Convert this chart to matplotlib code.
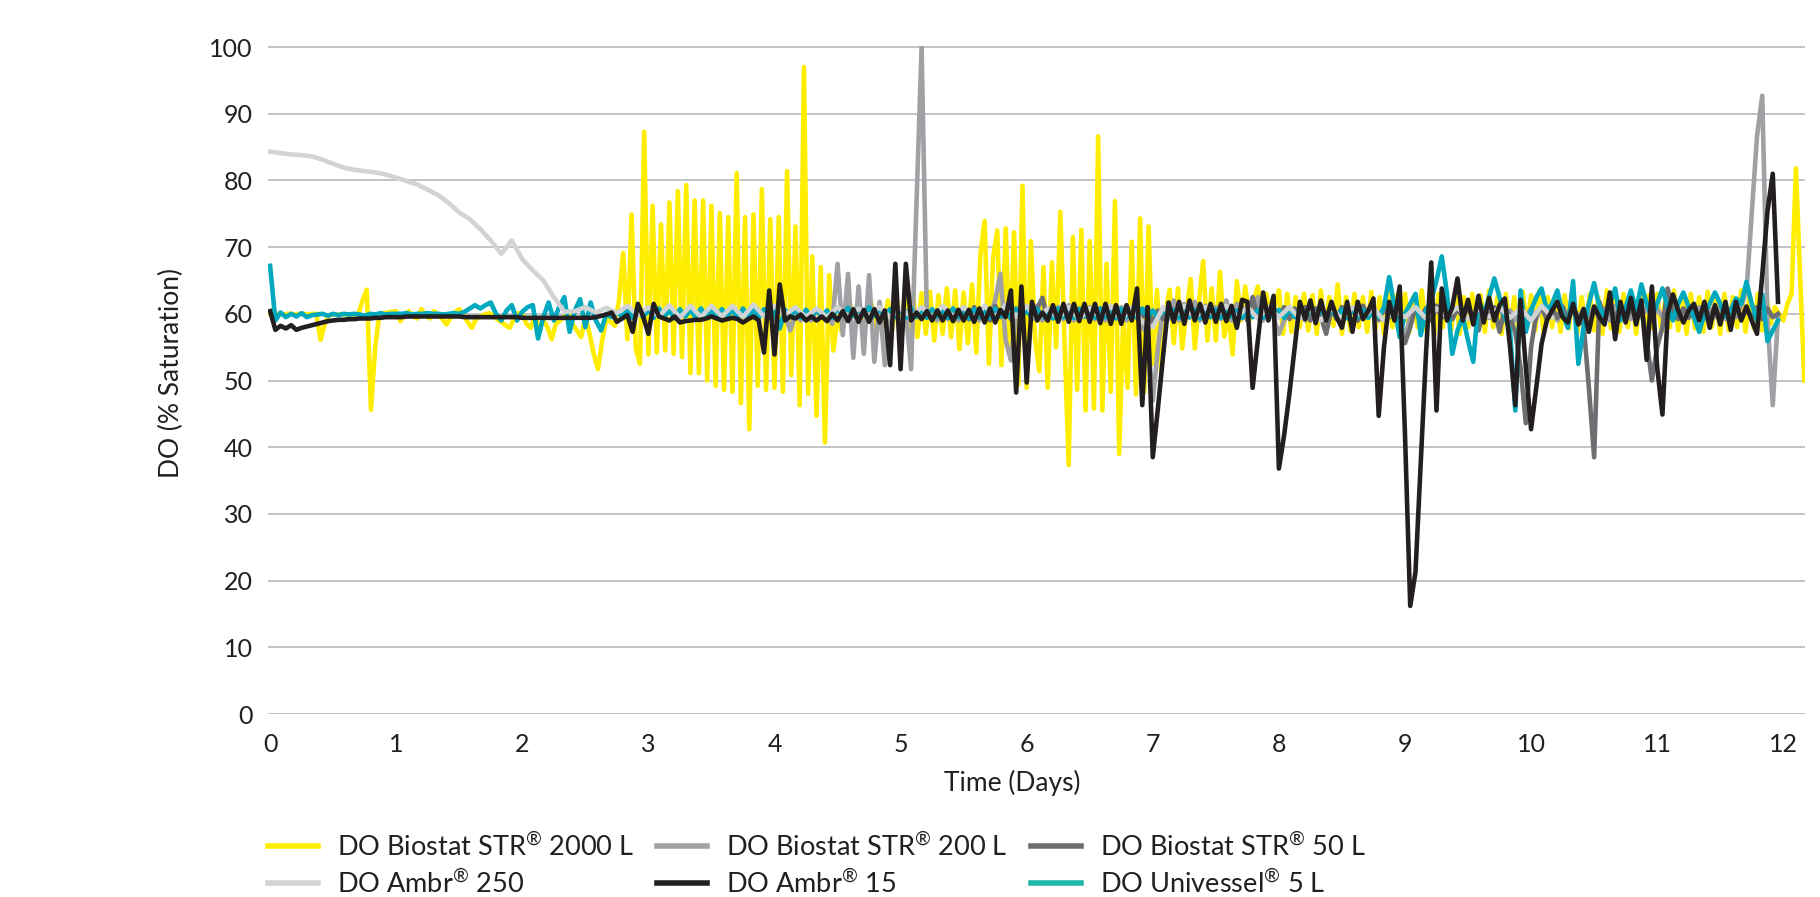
import numpy as np
import matplotlib
matplotlib.use("Agg")
import matplotlib.pyplot as plt
from matplotlib.lines import Line2D

plt.rcParams['font.family'] = ['Lato', 'DejaVu Sans']
plt.rcParams['mathtext.fontset'] = 'custom'
plt.rcParams['mathtext.rm'] = 'Lato'

# DO readings (% saturation).
# each series is sampled at a fixed step (days) from its start day

# DO Ambr 15 - hourly from day 0
ambr15_start, ambr15_step = 0.0, 1 / 24
ambr15 = [
    60.4, 57.6, 58.2, 57.8, 58.3, 57.6, 57.9, 58.1, 58.3, 58.5, 58.7, 58.9, 59.0, 59.1, 59.1, 59.2, 59.2, 59.3, 59.3, 59.3, 59.4, 59.4, 59.5, 59.5,
    59.5, 59.5, 59.6, 59.6, 59.6, 59.6, 59.6, 59.6, 59.6, 59.6, 59.6, 59.6, 59.6, 59.5, 59.5, 59.5, 59.5, 59.5, 59.5, 59.5, 59.5, 59.5, 59.5, 59.5,
    59.4, 59.4, 59.4, 59.4, 59.4, 59.4, 59.4, 59.4, 59.4, 59.4, 59.4, 59.4, 59.4, 59.4, 59.5, 59.7, 59.9, 60.2, 58.8, 59.3, 59.8, 57.3, 61.5, 59.6,
    57.0, 61.5, 59.6, 59.3, 59.0, 59.6, 58.7, 58.9, 59.0, 59.1, 59.1, 59.3, 59.6, 59.3, 59.0, 59.2, 59.4, 59.2, 58.7, 59.2, 59.6, 59.0, 54.2, 63.5,
    53.9, 64.4, 59.0, 59.6, 59.3, 59.9, 59.0, 59.6, 59.0, 59.6, 58.9, 60.0, 59.0, 60.4, 58.9, 60.7, 58.8, 60.6, 58.8, 60.7, 58.7, 60.5, 52.3, 67.5,
    51.7, 67.5, 59.0, 60.2, 59.2, 60.4, 59.0, 60.5, 59.0, 60.5, 58.9, 60.6, 59.0, 60.6, 58.8, 60.8, 58.7, 60.8, 58.7, 60.6, 59.5, 63.5, 48.2, 64.1,
    49.7, 61.8, 59.0, 60.2, 59.0, 61.3, 58.8, 61.5, 58.8, 61.5, 58.9, 61.5, 58.8, 61.5, 58.6, 61.5, 58.5, 61.3, 58.5, 61.3, 59.0, 63.8, 46.3, 61.0,
    38.5, 46.0, 54.0, 61.7, 58.8, 61.8, 58.5, 62.0, 59.0, 61.5, 58.7, 61.5, 58.8, 61.5, 58.9, 61.2, 57.9, 62.1, 61.8, 48.9, 56.0, 63.2, 59.0, 62.7,
    36.8, 41.8, 48.0, 54.9, 61.8, 59.2, 62.0, 58.6, 62.0, 59.0, 61.8, 59.5, 57.9, 61.8, 57.3, 61.8, 59.2, 60.4, 62.3, 44.7, 55.0, 61.8, 59.0, 64.1,
    42.0, 16.2, 21.3, 37.6, 54.0, 67.7, 45.5, 63.8, 59.0, 61.0, 65.3, 59.0, 62.1, 58.4, 62.7, 58.7, 62.4, 59.0, 61.3, 62.3, 55.0, 46.3, 62.1, 52.0,
    42.7, 49.0, 55.5, 59.0, 60.5, 61.8, 59.5, 58.7, 61.5, 58.4, 60.7, 57.3, 61.1, 59.5, 58.4, 63.2, 56.2, 61.8, 58.7, 62.4, 58.4, 62.0, 53.1, 64.1,
    52.0, 44.9, 60.0, 62.9, 60.5, 58.7, 60.5, 61.5, 59.0, 61.8, 57.9, 61.3, 58.4, 61.8, 57.6, 61.8, 59.0, 61.1, 59.0, 57.0, 65.8, 75.4, 81.0, 61.8,
]

# DO Biostat STR 2000 L - every 48 min from day 0
str2000_start, str2000_step = 0.0, 1 / 30
str2000 = [
    60.0, 60.0, 60.0, 59.9, 60.0, 60.0, 59.9, 60.0, 60.0, 59.9, 60.0, 60.0, 56.1, 58.5, 59.8, 59.9, 59.9, 59.9, 59.9, 59.9, 59.9, 59.9, 62.0, 63.6, 45.6, 55.0, 60.0, 60.1, 60.2, 60.3,
    60.4, 58.9, 59.8, 60.4, 59.6, 59.3, 60.7, 59.8, 59.3, 60.4, 59.8, 59.2, 58.4, 59.5, 60.2, 60.7, 59.8, 58.8, 57.9, 59.2, 59.6, 59.9, 60.1, 59.8, 59.2, 58.8, 58.3, 57.9, 59.2, 60.1,
    60.0, 58.5, 57.9, 59.6, 57.9, 59.0, 58.0, 56.2, 58.5, 59.0, 59.6, 60.1, 58.4, 57.5, 56.5, 59.6, 57.0, 54.0, 51.7, 56.0, 59.3, 58.8, 58.2, 62.0, 69.1, 56.2, 74.9, 54.8, 52.5, 87.3,
    53.9, 76.2, 54.2, 73.4, 54.5, 76.7, 54.0, 78.4, 53.5, 79.3, 51.1, 77.0, 51.1, 77.0, 50.0, 76.2, 49.2, 75.1, 48.6, 74.5, 48.3, 81.1, 46.6, 74.5, 42.7, 74.9, 49.2, 78.7, 48.6, 74.2,
    48.9, 74.5, 48.3, 81.4, 50.8, 73.1, 46.3, 97.0, 48.0, 68.6, 44.7, 67.0, 40.7, 65.8, 54.5, 59.6, 57.3, 60.0, 61.3, 59.6, 60.1, 58.5, 60.5, 61.8, 57.9, 61.5, 58.0, 62.0, 57.5, 62.5,
    57.0, 63.0, 57.5, 62.8, 56.5, 63.1, 57.0, 63.3, 56.0, 62.8, 57.0, 63.8, 56.5, 63.5, 54.7, 63.2, 55.6, 64.4, 54.2, 68.9, 73.9, 52.5, 68.3, 72.5, 52.3, 72.8, 54.0, 72.2, 49.4, 79.2,
    48.9, 70.9, 56.2, 51.4, 67.0, 48.9, 67.7, 55.0, 75.3, 56.0, 37.3, 71.5, 48.6, 72.6, 45.5, 70.9, 45.8, 86.6, 45.5, 67.5, 48.3, 76.9, 39.0, 60.0, 48.9, 70.8, 47.9, 74.3, 48.3, 73.1,
    52.5, 63.6, 51.4, 60.0, 63.6, 55.6, 63.8, 54.8, 60.5, 65.2, 54.8, 62.0, 67.9, 56.0, 63.8, 56.0, 66.3, 56.6, 60.0, 53.9, 64.9, 59.0, 64.1, 59.0, 62.0, 64.1, 59.0, 63.0, 59.6, 61.0,
    63.5, 57.0, 63.0, 57.3, 62.5, 58.0, 63.0, 57.5, 62.8, 57.0, 63.5, 57.6, 62.5, 58.2, 64.4, 57.0, 62.5, 57.5, 63.0, 58.0, 62.5, 57.3, 63.3, 57.8, 62.5, 57.0, 63.0, 58.0, 62.8, 57.5,
    63.0, 57.2, 62.5, 58.0, 63.5, 57.5, 62.8, 57.0, 63.0, 58.0, 62.5, 57.5, 63.3, 57.0, 62.5, 58.0, 63.0, 57.5, 62.8, 57.3, 63.5, 58.0, 62.5, 57.0, 63.0, 57.8, 62.5, 57.5, 63.3, 58.0,
    62.8, 57.5, 63.5, 57.0, 62.5, 58.0, 63.0, 57.3, 62.8, 57.8, 63.3, 57.0, 62.5, 58.0, 63.0, 57.5, 62.5, 57.0, 63.5, 57.8, 62.8, 57.3, 63.0, 58.0, 62.5, 57.0, 63.3, 57.5, 62.8, 57.8,
    63.0, 57.3, 62.5, 58.0, 63.5, 57.5, 62.8, 57.0, 63.0, 57.8, 62.5, 57.3, 63.3, 58.0, 62.8, 57.0, 63.0, 57.5, 62.5, 58.0, 63.5, 57.3, 62.8, 57.8, 63.0, 57.5, 62.5, 58.5, 61.0, 60.0,
    59.0, 61.5, 63.0, 81.8, 66.0, 50.0,
]

# DO Ambr 250 - every 2 h from day 0
ambr250_start, ambr250_step = 0.0, 1 / 12
ambr250 = [
    84.3, 84.1, 83.9, 83.8, 83.6, 83.1, 82.5, 81.9, 81.6, 81.4, 81.2, 80.9,
    80.4, 79.9, 79.4, 78.6, 77.8, 76.6, 75.2, 74.2, 72.7, 71.0, 69.0, 71.0,
    68.2, 66.5, 65.0, 62.5, 60.3, 60.4, 61.0, 60.2, 60.9, 60.1, 61.2, 59.8,
    61.0, 59.6, 61.3, 59.4, 61.2, 59.5, 61.2, 59.6, 61.2, 59.5, 61.4, 59.6,
    61.2, 59.8, 61.0, 59.5, 60.8, 59.5, 61.0, 59.6, 60.8, 59.7, 61.0, 59.5,
    60.8, 59.6, 61.0, 59.5, 61.2, 59.6, 61.0, 59.4, 61.2, 59.5, 61.3, 59.6,
    61.2, 59.0, 60.8, 59.3, 61.0, 59.2, 60.8, 59.5, 61.2, 59.0, 61.0, 58.8,
    58.0, 61.0, 59.5, 61.2, 59.4, 61.0, 59.6, 61.2, 59.5, 61.0, 59.3, 61.0,
    59.5, 61.0, 59.3, 60.7, 59.0, 60.8, 59.2, 61.0, 59.5, 60.8, 59.0, 60.5,
    59.5, 61.0, 59.3, 60.8, 59.6, 61.0, 59.2, 60.7, 59.5, 61.0, 59.4, 60.8,
    59.0, 61.2, 59.5,
]

# DO Univessel 5 L - hourly from day 0
univessel_start, univessel_step = 0.0, 1 / 24
univessel = [
    67.2, 59.0, 60.2, 59.5, 60.0, 59.6, 60.1, 59.5, 59.8, 59.9, 60.0, 59.7, 60.0, 59.8, 60.0, 59.9, 60.0, 59.9, 59.7, 60.0, 59.9, 60.1, 59.9, 60.0,
    60.0, 60.0, 60.1, 59.9, 60.0, 60.0, 60.1, 60.0, 60.0, 59.9, 60.0, 60.1, 60.0, 60.3, 60.8, 61.3, 60.8, 61.3, 61.7, 60.0, 59.0, 60.5, 61.3, 59.0,
    60.3, 61.0, 61.3, 56.3, 59.5, 61.7, 59.0, 61.0, 62.5, 57.3, 60.5, 62.2, 58.0, 61.7, 59.0, 57.5, 60.0, 59.5, 60.2, 59.6, 60.5, 59.4, 60.6, 59.5,
    60.6, 59.4, 60.8, 59.5, 60.5, 59.3, 60.7, 59.6, 60.6, 59.4, 60.8, 59.5, 60.5, 59.4, 60.7, 59.6, 60.6, 59.3, 60.8, 59.5, 60.6, 59.4, 60.7, 59.5,
    60.5, 57.8, 60.6, 59.5, 60.8, 59.4, 60.6, 59.5, 60.7, 59.6, 60.5, 59.4, 60.9, 59.8, 60.9, 59.7, 60.8, 59.8, 61.0, 59.7, 60.8, 59.6, 60.7, 59.5,
    60.6, 59.4, 60.8, 59.5, 60.6, 59.4, 60.7, 59.6, 60.5, 59.4, 60.8, 59.5, 60.6, 59.3, 60.7, 59.5, 60.6, 59.4, 60.8, 59.6, 60.5, 59.4, 60.7, 59.5,
    60.6, 59.4, 60.7, 59.5, 60.6, 59.3, 60.8, 59.5, 60.5, 59.4, 60.7, 59.6, 60.6, 59.4, 60.8, 59.5, 60.6, 59.3, 60.7, 59.5, 60.6, 59.4, 60.8, 59.5,
    60.5, 59.4, 60.7, 59.6, 60.6, 59.4, 60.8, 59.5, 60.6, 59.3, 60.7, 59.5, 60.6, 59.4, 60.8, 59.6, 60.5, 59.4, 60.7, 59.5, 60.6, 59.4, 60.8, 59.5,
    60.6, 59.4, 60.8, 59.5, 60.6, 59.4, 60.7, 59.6, 60.5, 59.4, 60.8, 59.5, 60.6, 59.3, 60.7, 59.5, 60.6, 59.4, 60.5, 59.5, 61.0, 65.5, 61.0, 56.5,
    60.0, 61.5, 63.0, 56.8, 60.5, 62.0, 65.0, 68.6, 63.0, 54.0, 57.5, 59.6, 56.0, 52.8, 62.0, 60.0, 62.5, 65.3, 62.5, 59.6, 57.5, 45.5, 63.5, 57.3,
    60.5, 62.5, 63.8, 60.5, 61.5, 63.5, 60.0, 57.9, 64.9, 52.5, 58.0, 61.5, 64.6, 61.0, 59.6, 61.5, 63.8, 59.0, 61.0, 63.5, 60.5, 64.4, 61.5, 59.6,
    61.5, 63.8, 61.0, 59.0, 61.5, 63.2, 61.0, 59.5, 57.3, 60.0, 61.5, 63.2, 61.5, 59.6, 60.5, 62.3, 61.5, 64.8, 61.5, 59.0, 62.9, 55.9, 57.5, 59.0,
]

# DO Biostat STR 200 L - hourly from day 4
str200_start, str200_step = 4.0, 1 / 24
str200 = [
    59.5, 58.0, 60.0, 57.5, 60.0, 59.0, 60.2, 59.0, 60.5, 59.5, 60.0, 58.5,
    67.5, 56.8, 66.0, 53.4, 64.1, 54.0, 65.8, 52.8, 61.8, 52.3, 60.0, 61.5,
    58.0, 60.5, 51.7, 76.0, 100.0, 59.5, 60.5, 59.0, 61.0, 59.2, 60.8, 59.0,
    61.0, 59.2, 60.8, 59.0, 61.2, 59.5, 62.0, 66.0, 56.0, 53.0, 60.5, 59.5,
    61.0, 59.3, 61.2, 59.0, 60.8, 59.4, 61.0, 59.2, 61.3, 59.0, 60.8, 59.5,
    61.0, 59.2, 60.8, 59.0, 61.2, 59.4, 61.0, 59.0, 60.5, 59.5, 58.0, 57.0,
    47.0, 55.0, 61.0, 59.2, 62.0, 59.0, 61.5, 59.4, 61.8, 59.0, 61.2, 59.5,
    61.0, 59.2, 62.0, 59.0, 61.5, 59.3, 61.0, 59.5, 62.5, 59.0, 61.0, 59.4,
    57.0, 59.0, 61.0, 59.5, 60.8, 59.0, 61.2, 59.3, 60.8, 59.0, 61.0, 59.2,
    61.0, 59.5, 60.8, 59.0, 61.2, 59.4, 61.0, 59.0, 60.8, 59.5, 61.0, 59.2,
    56.5, 59.5, 61.0, 59.2, 60.8, 59.0, 61.2, 59.4, 61.0, 59.2, 60.8, 59.5,
    61.0, 59.2, 60.8, 59.0, 61.2, 59.5, 61.0, 59.2, 60.5, 59.0, 61.0, 59.5,
    60.8, 59.2, 61.0, 59.4, 60.8, 59.0, 61.2, 59.5, 61.0, 59.3, 60.8, 59.5,
    61.0, 59.2, 60.8, 59.0, 61.2, 59.4, 61.0, 59.2, 60.8, 59.5, 61.0, 59.3,
    60.8, 59.5, 61.0, 59.2, 60.8, 59.0, 61.2, 59.4, 61.0, 59.2, 60.8, 59.5,
    61.0, 59.2, 60.8, 59.5, 61.2, 63.4, 75.0, 86.6, 92.7, 59.2, 46.3, 59.7,
]

# DO Biostat STR 50 L - hourly from day 5.5
str50_start, str50_step = 5.5, 1 / 24
str50 = [
    60.5, 59.2, 61.0, 59.4, 60.8, 59.0, 61.2, 59.5, 61.0, 59.2, 60.8, 59.5,
    61.0, 59.2, 60.8, 62.4, 59.0, 61.0, 59.4, 60.8, 59.2, 61.0, 59.5, 60.8,
    59.2, 61.0, 59.4, 60.8, 59.0, 61.2, 59.5, 61.0, 59.2, 60.8, 59.5, 61.0,
    58.5, 60.5, 59.2, 61.0, 59.4, 60.8, 59.0, 61.2, 59.5, 61.0, 59.2, 60.8,
    59.5, 61.0, 59.2, 60.8, 59.4, 61.0, 59.0, 62.5, 59.5, 61.0, 59.2, 60.8,
    59.5, 61.0, 59.2, 60.8, 59.4, 61.0, 59.0, 60.8, 59.5, 57.0, 60.8, 59.2,
    61.0, 59.4, 60.8, 59.0, 61.2, 59.5, 61.0, 59.2, 60.8, 59.5, 61.0, 58.0,
    55.6, 58.0, 61.0, 59.4, 60.8, 59.0, 61.2, 59.5, 61.0, 59.2, 60.8, 59.5,
    61.0, 59.2, 57.5, 60.8, 59.4, 61.0, 57.3, 60.8, 59.5, 57.2, 52.0, 43.6,
    55.0, 60.0, 61.0, 59.2, 60.8, 59.4, 61.0, 59.0, 60.8, 59.5, 58.4, 49.0,
    38.5, 61.8, 59.2, 60.8, 59.5, 61.0, 59.2, 60.8, 59.4, 61.0, 56.0, 50.0,
    55.0, 58.0, 63.8, 60.5, 59.2, 60.8, 59.4, 61.0, 59.2, 60.8, 59.5, 61.0,
    59.2, 60.8, 59.5, 61.0, 59.2, 60.8, 59.4, 61.0, 59.2, 60.8, 59.5, 60.0,
]

# legend, read row by row as in the picture
labels = ['DO Biostat STR$^{\\circledR}$ 2000 L', 'DO Biostat STR$^{\\circledR}$ 200 L',
          'DO Biostat STR$^{\\circledR}$ 50 L', 'DO Ambr$^{\\circledR}$ 250',
          'DO Ambr$^{\\circledR}$ 15', 'DO Univessel$^{\\circledR}$ 5 L']
legend_colors = ['#FFED00', '#A0A1A5', '#6D6E71', '#D1D3D4', '#231F20', '#1DB8A8']

fig = plt.figure(figsize=(18.2, 8.97), dpi=100)
ax = fig.add_axes([0.1473, 0.2040, 0.8445, 0.7447])


def days(start, step, vals):
    return start + step * np.arange(len(vals))


lw = 3.3
# drawing order: yellow at the back, black on top
ax.plot(days(str2000_start, str2000_step, str2000), str2000, color='#FFED00', lw=lw)
ax.plot(days(str200_start, str200_step, str200), str200, color='#A0A1A5', lw=lw)
ax.plot(days(str50_start, str50_step, str50), str50, color='#6D6E71', lw=lw)
ax.plot(days(univessel_start, univessel_step, univessel), univessel, color='#00A9BE', lw=lw)
ax.plot(days(ambr250_start, ambr250_step, ambr250), ambr250, color='#D1D3D4', lw=lw)
ax.plot(days(ambr15_start, ambr15_step, ambr15), ambr15, color='#231F20', lw=lw)

ax.set_xlim(-0.016, 12.173)
ax.set_ylim(0, 100.15)
ax.set_xticks(range(0, 13))
ax.set_yticks(range(0, 101, 10))
ax.grid(axis='y', color='#B1B3B6', lw=1.1)
ax.set_axisbelow(True)
for s in ax.spines.values():
    s.set_visible(False)
ax.tick_params(axis='both', length=0, labelsize=18, colors='#231F20')
ax.tick_params(axis='y', pad=11)
ax.tick_params(axis='x', pad=14)

ax.set_xlabel('Time (Days)', fontsize=19, color='#231F20')
ax.set_ylabel('DO (% Saturation)', fontsize=19, color='#231F20')
ax.xaxis.set_label_coords(0.484, -0.083)
ax.yaxis.set_label_coords(-0.055, 0.51)

# matplotlib fills legend columns first, so reorder to get rows of three
handles = [Line2D([], [], color=c, lw=4) for c in legend_colors]
order = [0, 3, 1, 4, 2, 5]
fig.legend([handles[i] for i in order], [labels[i] for i in order],
           loc='upper left', bbox_to_anchor=(268 / 1820, 1 - 832 / 897),
           ncol=3, frameon=False, fontsize=19.5, handlelength=1.85, handletextpad=0.7,
           columnspacing=0.85, labelspacing=0.3, borderaxespad=0, borderpad=0,
           labelcolor='#231F20')

fig.savefig('out.png', dpi=100)
